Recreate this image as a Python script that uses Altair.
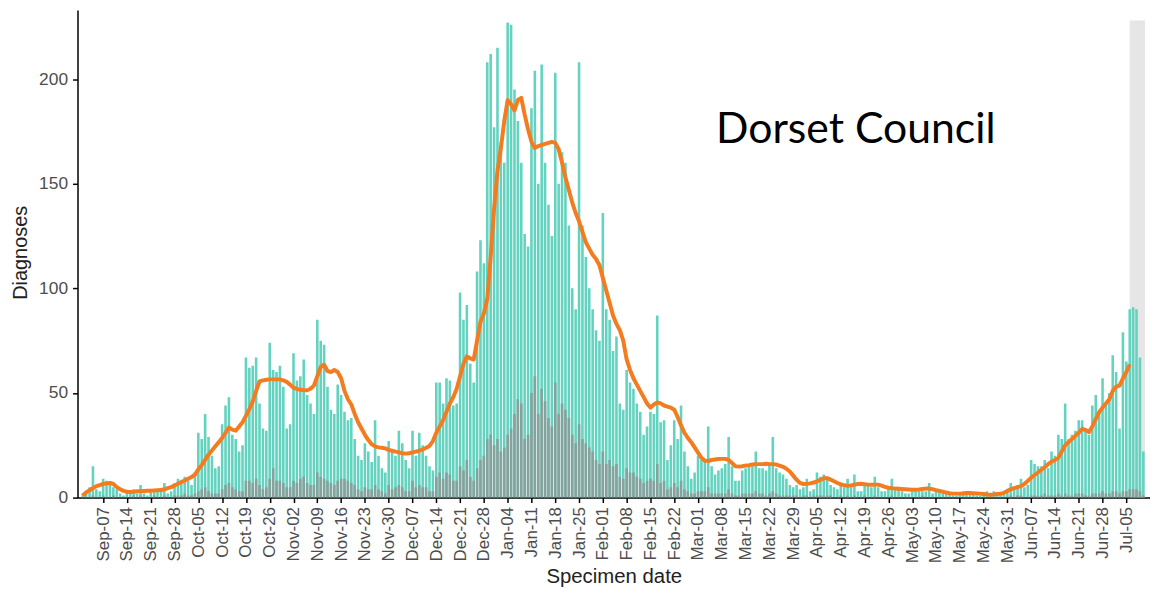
import altair as alt
import pandas as pd

# ---------------- data ----------------
START = "2020-09-01"

# daily diagnoses (total bar height), 2020-09-01 .. 2021-07-10
total = [
    2, 3, 5, 15, 4, 3,
    9, 8, 6, 5, 4, 2, 1,
    3, 3, 4, 2, 6, 2, 1,
    3, 4, 3, 4, 7, 2, 3,
    7, 9, 8, 10, 8, 6, 12,
    31, 28, 40, 29, 20, 14, 15,
    35, 44, 48, 30, 28, 22, 25,
    67, 62, 63, 67, 45, 33, 32,
    74, 61, 60, 63, 53, 33, 35,
    69, 56, 58, 66, 49, 45, 40,
    85, 75, 73, 53, 42, 40, 54,
    49, 41, 37, 38, 28, 20, 18,
    26, 22, 17, 37, 20, 14, 12,
    27, 22, 20, 32, 26, 18, 14,
    32, 20, 31, 25, 20, 15, 13,
    55, 55, 45, 57, 56, 44, 45,
    98, 85, 92, 64, 55, 108, 123,
    112, 208, 212, 177, 215, 170, 160,
    227, 226, 195, 180, 160, 126, 120,
    186, 204, 150, 207, 160, 140, 125,
    203, 150, 165, 160, 130, 100, 90,
    208, 130, 115, 100, 90, 80, 75,
    136, 90, 85, 70, 77, 45, 42,
    61, 55, 52, 45, 41, 30, 34,
    41, 40, 87, 36, 37, 18, 25,
    37, 28, 44, 22, 15, 9, 12,
    20, 18, 18, 34, 15, 11, 13,
    14, 16, 29, 15, 8, 8, 13,
    14, 15, 16, 22, 14, 14, 13,
    16, 29, 14, 12, 11, 9, 6,
    5, 6, 4, 5, 9, 3, 4,
    12, 10, 11, 9, 6, 5, 4,
    6, 5, 9, 5, 11, 3, 3,
    7, 6, 5, 10, 5, 3, 3,
    5, 9, 4, 4, 3, 2, 2,
    3, 4, 3, 3, 3, 7, 2,
    3, 3, 2, 3, 2, 1, 1,
    2, 3, 2, 2, 2, 1, 1,
    2, 3, 2, 3, 2, 1, 2,
    4, 7, 5, 6, 9, 5, 6,
    18, 16, 15, 15, 18, 14, 22,
    20, 30, 28, 45, 28, 30, 32,
    37, 37, 32, 30, 44, 49, 40,
    57, 45, 50, 68, 60, 33, 79,
    65, 90, 91, 90, 67, 22,
]

# darker lower part of each bar
dark = [
    0, 0, 0, 1, 0, 0,
    1, 0, 0, 1, 0, 0, 0,
    0, 0, 1, 0, 1, 0, 0,
    0, 1, 0, 0, 1, 0, 0,
    1, 1, 1, 2, 1, 1, 2,
    3, 4, 5, 3, 2, 2, 2,
    4, 6, 7, 5, 4, 3, 3,
    8, 8, 7, 9, 6, 4, 5,
    9, 14, 8, 8, 7, 5, 5,
    8, 7, 9, 10, 7, 6, 6,
    12, 10, 9, 8, 7, 6, 8,
    9, 9, 8, 7, 6, 4, 3,
    5, 4, 4, 6, 4, 3, 2,
    6, 4, 5, 6, 5, 3, 3,
    8, 5, 6, 5, 5, 3, 3,
    10, 12, 9, 12, 11, 8, 8,
    15, 13, 18, 10, 8, 14, 18,
    20, 28, 30, 25, 28, 22, 24,
    30, 33, 40, 47, 45, 28, 30,
    50, 58, 40, 52, 46, 38, 34,
    55, 40, 45, 42, 38, 30, 26,
    35, 28, 26, 24, 22, 18, 16,
    22, 16, 18, 15, 16, 10, 9,
    14, 12, 12, 10, 9, 7, 8,
    9, 8, 16, 7, 8, 4, 5,
    7, 5, 8, 4, 3, 2, 2,
    3, 3, 3, 5, 2, 2, 2,
    2, 2, 4, 2, 1, 1, 2,
    2, 2, 2, 3, 2, 2, 1,
    2, 3, 2, 1, 1, 1, 1,
    1, 1, 0, 1, 1, 0, 1,
    1, 1, 1, 1, 1, 0, 0,
    1, 0, 1, 0, 1, 0, 0,
    1, 0, 0, 1, 0, 0, 0,
    0, 1, 0, 0, 0, 0, 0,
    0, 0, 0, 1, 0, 0, 0,
    0, 0, 0, 0, 0, 0, 0,
    0, 0, 0, 0, 0, 0, 0,
    0, 0, 0, 0, 0, 0, 0,
    0, 1, 0, 1, 1, 0, 0,
    1, 1, 1, 1, 2, 1, 1,
    1, 2, 1, 2, 1, 1, 2,
    2, 2, 1, 1, 2, 2, 2,
    3, 2, 2, 3, 3, 2, 3,
    3, 4, 4, 4, 3, 1,
]

# 7-day average line, 2020-09-01 .. 2021-07-06
avg7 = [
    1, 2.5, 3.5, 4.5, 5.5, 6, 6.5, 6.8, 7, 6.5,
    5, 4, 3.2, 2.8, 2.7, 2.8, 3, 3, 3.2, 3.3,
    3.3, 3.4, 3.5, 3.6, 4, 4.5, 5, 5.8, 6.6, 7.4,
    8.2, 9, 9.8, 11, 13.5, 15.5, 18, 20.5, 22.5, 24.5,
    26.5, 28.5, 31, 33.5, 32.5, 32, 34, 36, 39, 42.3,
    46, 51, 55.5, 56, 56.3, 56.5, 56.5, 56.5, 56.5, 56,
    55.3, 54, 52.5, 52, 51.5, 51.3, 51.3, 52, 53.5, 58,
    62.5, 63.5, 60.5, 60, 61, 60, 57, 51, 47, 44.5,
    40, 36, 33, 30, 27.5, 25.5, 24.5, 24, 23.8, 23.5,
    22.8, 22.4, 22, 21.6, 21.2, 21, 21.2, 21.6, 22, 22.4,
    23, 23.8, 24.7, 27, 31, 34, 37, 41, 45, 48,
    52, 58, 64, 67.5, 66.5, 66, 75, 84, 88, 95,
    115, 138, 156, 167, 180, 190, 188, 185, 190, 191,
    183, 176, 170, 167, 168, 168.5, 169, 169.5, 170, 169.5,
    166.5, 160, 153, 147, 141, 136, 132, 127, 122, 119,
    116, 114, 111, 105, 99, 93, 87, 83, 80, 75,
    66, 61, 57, 54, 51, 48, 45, 43, 44.5, 45.5,
    45, 44, 43.5, 43, 42, 38.5, 34.5, 31, 28.5, 26.5,
    24, 21.5, 19, 17.6, 17.5, 18, 18.2, 18.4, 18.5, 18.5,
    18, 16.5, 15, 14.8, 15, 15.3, 15.5, 15.8, 16, 16,
    16, 16.2, 16, 16, 15.8, 15.3, 14.7, 13.8, 12.5, 10.5,
    8.5, 7, 6.5, 6.6, 6.8, 7.2, 7.8, 8.5, 9.2, 9.3,
    8.6, 7.8, 7, 6.3, 5.9, 5.7, 5.8, 6.2, 6.5, 6.6,
    6.4, 6.2, 6.1, 6.2, 6.2, 5.7, 5.1, 4.7, 4.5, 4.3,
    4.2, 4.1, 4, 3.9, 3.8, 3.8, 3.9, 4.1, 4.3, 4.3,
    4, 3.6, 3.2, 2.8, 2.4, 2.1, 1.9, 1.9, 1.9, 2,
    2.2, 2.2, 2.1, 2, 1.9, 1.7, 1.5, 1.4, 1.5, 1.7,
    1.8, 2.3, 3.2, 4, 4.5, 5, 5.5, 6.5, 8, 9.5,
    10.8, 12, 13.3, 14.5, 16, 17.2, 18, 19, 22, 25,
    26.5, 28, 29.5, 31, 32.8, 32.3, 31.3, 34, 37.5, 40.8,
    43, 45, 47, 51, 53, 53.5, 57, 60, 63.6,
]

tick_start, tick_end = "2020-09-07", "2021-07-05"
band_start, band_end, band_top = "2021-07-06", "2021-07-10T12:00:00Z", 228
label_text, label_date, label_value = "Dorset Council", "2021-03-06T07:00:00Z", 169.4

# ---------------- tables ----------------
n = len(total)
dark = (dark + [0] * n)[:n]
dates = pd.date_range(START, periods=n, freq="D").strftime("%Y-%m-%d")
bars = pd.DataFrame({"date": dates, "total": total, "dark": dark})
line_df = pd.DataFrame({"date": dates[:len(avg7)], "avg": avg7[:n]})
band_df = pd.DataFrame({"start": [band_start], "end": [band_end], "y0": [0], "y1": [band_top]})
label_df = pd.DataFrame({"date": [label_date], "val": [label_value], "label": [label_text]})

ticks = [alt.DateTime(year=d.year, month=d.month, date=d.day, utc=True)
         for d in pd.date_range(tick_start, tick_end, freq="7D")]

FONT = "Liberation Sans"
x_scale = alt.Scale(
    type="utc",
    domain=[alt.DateTime(year=2020, month=8, date=31, hours=22, utc=True),
            alt.DateTime(year=2021, month=7, date=10, hours=12, utc=True)],
)
y_scale = alt.Scale(domain=[0, 233], nice=False, zero=True)

x_axis = alt.Axis(
    values=ticks, format="%b-%d", labelAngle=-90, labelFontSize=17, labelColor="#4d4d4d",
    labelFont=FONT, labelPadding=4, labelOverlap=False, labelFlush=False,
    tickColor="black", tickSize=5, tickWidth=1.5, domainColor="black", domainWidth=1.5,
    grid=False, title="Specimen date", titleFont=FONT, titleFontSize=20.5,
    titleFontWeight="normal", titleColor="#222222", titleY=85, titleBaseline="alphabetic",
)
y_axis = alt.Axis(
    values=[0, 50, 100, 150, 200], labelFontSize=17.5, labelColor="#4d4d4d", labelFont=FONT,
    labelPadding=5, tickColor="black", tickSize=5, tickWidth=1.5, domainColor="black",
    domainWidth=1.5, grid=False, title="Diagnoses", titleFont=FONT, titleFontSize=20,
    titleFontWeight="normal", titleColor="#222222", titleAngle=-90, titleX=-51, titleY=244,
    titleBaseline="alphabetic", titleAlign="center",
)

band = alt.Chart(band_df).mark_rect(color="#e6e6e6", clip=True).encode(
    x=alt.X("start:T", scale=x_scale, axis=x_axis),
    x2="end:T",
    y=alt.Y("y0:Q", scale=y_scale, axis=y_axis),
    y2="y1:Q",
)

teal = alt.Chart(bars).mark_bar(color="#63d3c0", size=2.6, clip=True).encode(
    x=alt.X("date:T", scale=x_scale, axis=x_axis),
    y=alt.Y("total:Q", scale=y_scale, axis=y_axis),
)

darkbars = alt.Chart(bars).mark_bar(color="#88a19c", size=2.6, clip=True).encode(
    x=alt.X("date:T", scale=x_scale, axis=x_axis),
    y=alt.Y("dark:Q", scale=y_scale, axis=y_axis),
)

line = alt.Chart(line_df).mark_line(color="#f47c20", strokeWidth=4, strokeJoin="round", clip=True).encode(
    x=alt.X("date:T", scale=x_scale, axis=x_axis),
    y=alt.Y("avg:Q", scale=y_scale, axis=y_axis),
)

label = alt.Chart(label_df).mark_text(
    align="left", baseline="alphabetic", font="Lato", fontSize=43, color="black"
).encode(
    x=alt.X("date:T", scale=x_scale, axis=x_axis),
    y=alt.Y("val:Q", scale=y_scale, axis=y_axis),
    text="label:N",
)

chart = alt.layer(band, teal, darkbars, line, label).properties(
    width=1080,
    height=491,
    padding={"left": 70, "top": 0, "right": 0, "bottom": 88},
    autosize=alt.AutoSizeParams(type="none"),
    background="white",
).configure_view(stroke=None)

chart.save("out.html", embed_options={"renderer": "svg", "actions": False})
